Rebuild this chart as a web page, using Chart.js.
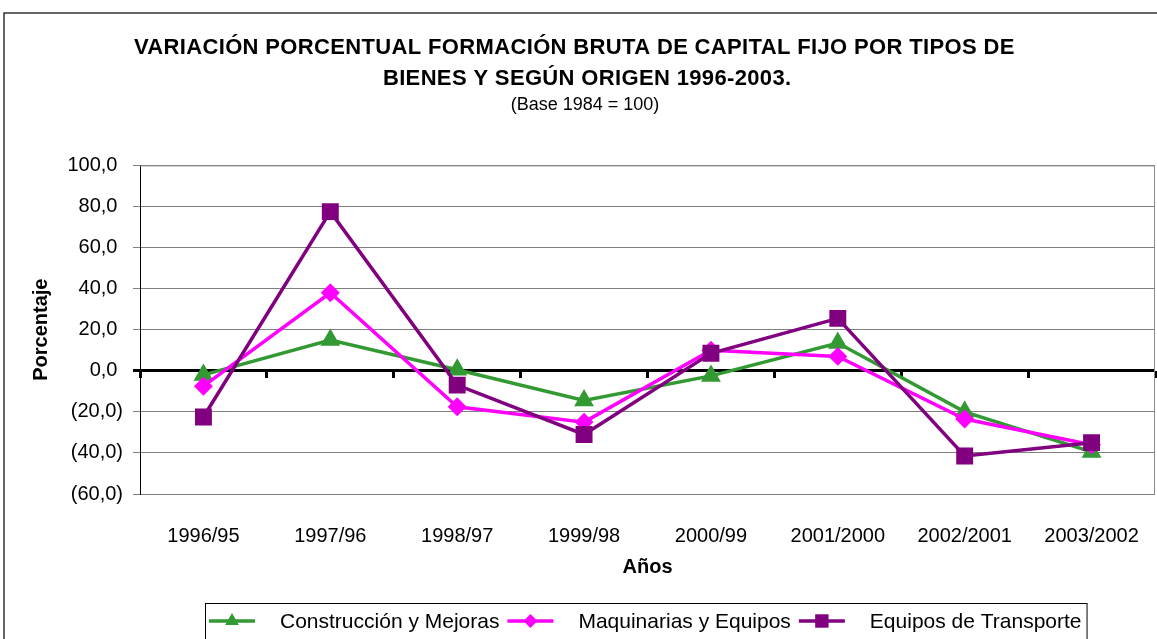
<!DOCTYPE html>
<html lang="es">
<head>
<meta charset="UTF-8">
<title>Variación porcentual FBKF</title>
<script src="https://cdn.jsdelivr.net/npm/chart.js@4.4.0/dist/chart.umd.min.js"></script>
<style>
  body { margin: 0; background: #fff; }
  .marco { position: relative; width: 1157px; height: 639px; overflow: hidden; }
</style>
</head>
<body>
<div class="marco">
  <canvas id="grafico" width="1157" height="639"></canvas>
</div>
<script>
// datos
const categorias = ['1996/95', '1997/96', '1998/97', '1999/98', '2000/99', '2001/2000', '2002/2001', '2003/2002'];
const construccion = [-2.0, 15.0, 0.5, -14.5, -2.5, 13.5, -20.0, -39.5];
const maquinarias = [-7.5, 38.0, -17.5, -25.0, 10.0, 7.0, -23.5, -36.0];
const transporte = [-22.5, 77.5, -7.0, -31.0, 8.5, 25.5, -41.5, -35.0];
const ticksY = [-60, -40, -20, 0, 20, 40, 60, 80, 100];

const fuente = "Arial, 'Liberation Sans', sans-serif";

// formato tipo Excel: negativos entre paréntesis
function formatoNum(v) {
  var s = Math.abs(v).toFixed(1).replace('.', ',');
  return v < 0 ? '(' + s + ')' : s + '\u2008';
}

// sin relleno lateral en los ejes de categorías
function sinRelleno(scale) {
  scale.paddingLeft = 0;
  scale.paddingRight = 0;
}

// marco exterior y borde del área de trazado
const marcoPlugin = {
  id: 'marco',
  beforeDraw(chart) {
    const ctx = chart.ctx;
    ctx.save();
    ctx.strokeStyle = '#333';
    ctx.lineWidth = 1.5;
    ctx.beginPath();
    ctx.moveTo(4, 639);
    ctx.lineTo(4, 13);
    ctx.lineTo(1157, 13);
    ctx.stroke();
    ctx.restore();
  },
  beforeDatasetsDraw(chart) {
    const a = chart.chartArea;
    const ctx = chart.ctx;
    ctx.save();
    ctx.strokeStyle = '#8c8c8c';
    ctx.lineWidth = 1;
    ctx.beginPath();
    ctx.moveTo(a.left, a.top + 0.5);
    ctx.lineTo(a.right - 0.5, a.top + 0.5);
    ctx.lineTo(a.right - 0.5, a.bottom);
    ctx.stroke();
    ctx.restore();
  }
};

// leyenda con línea + marcador, dentro de un recuadro
const leyendaPlugin = {
  id: 'leyendaCaja',
  afterDraw(chart) {
    const ctx = chart.ctx;
    const a = chart.chartArea;
    const sets = chart.data.datasets;
    ctx.save();
    ctx.font = '21px ' + fuente;
    var muestra = 46, hueco = 25, sep = 8;
    var total = 0;
    sets.forEach(function (ds, i) {
      total += muestra + hueco + ctx.measureText(ds.label).width + (i < sets.length - 1 ? sep : 0);
    });
    var padL = 4, padR = 5;
    var ancho = total + padL + padR;
    var x0 = Math.round((a.left + a.right) / 2 - 2 - ancho / 2);
    var y0 = chart.height - 36;
    ctx.strokeStyle = '#000';
    ctx.lineWidth = 1;
    ctx.strokeRect(x0 + 0.5, y0 + 0.5, ancho, 60);
    var x = x0 + padL;
    var yc = y0 + 18;
    sets.forEach(function (ds) {
      ctx.strokeStyle = ds.borderColor;
      ctx.lineWidth = ds.borderWidth;
      ctx.beginPath();
      ctx.moveTo(x, yc);
      ctx.lineTo(x + muestra, yc);
      ctx.stroke();
      ctx.fillStyle = ds.pointBackgroundColor;
      Chart.helpers.drawPoint(ctx, {
        pointStyle: ds.pointStyle, radius: ds.pointRadius, rotation: 0, borderWidth: 0
      }, x + muestra / 2, yc);
      ctx.fillStyle = '#000';
      ctx.textBaseline = 'middle';
      ctx.textAlign = 'left';
      ctx.fillText(ds.label, x + muestra + hueco, yc + 1);
      x += muestra + hueco + ctx.measureText(ds.label).width + sep;
    });
    ctx.restore();
  }
};

const ctx = document.getElementById('grafico').getContext('2d');
const grafico = new Chart(ctx, {
  type: 'line',
  data: {
    labels: categorias,
    datasets: [{
      label: 'Construcción y Mejoras',
      data: construccion,
      borderColor: '#339933',
      backgroundColor: '#339933',
      pointBackgroundColor: '#339933',
      pointBorderColor: '#339933',
      borderWidth: 3.5,
      pointStyle: 'triangle',
      pointRadius: 8,
      order: 2
    }, {
      label: 'Maquinarias y Equipos',
      data: maquinarias,
      borderColor: '#ff00ff',
      backgroundColor: '#ff00ff',
      pointBackgroundColor: '#ff00ff',
      pointBorderColor: '#ff00ff',
      borderWidth: 3.5,
      pointStyle: 'rectRot',
      pointRadius: 7,
      order: 1
    }, {
      label: 'Equipos de Transporte',
      data: transporte,
      borderColor: '#800080',
      backgroundColor: '#800080',
      pointBackgroundColor: '#800080',
      pointBorderColor: '#800080',
      borderWidth: 3.5,
      pointStyle: 'rect',
      pointRadius: 9.5,
      order: 0
    }]
  },
  options: {
    responsive: false,
    animation: false,
    layout: { autoPadding: false, padding: { left: 0, right: 2, top: 0, bottom: 0 } },
    plugins: {
      legend: { display: false },
      tooltip: { enabled: false },
      title: {
        display: true,
        text: ['VARIACIÓN PORCENTUAL FORMACIÓN BRUTA DE CAPITAL FIJO POR TIPOS DE ', '   BIENES Y SEGÚN ORIGEN 1996-2003.'],
        color: '#000',
        font: { family: fuente, size: 22, weight: 'bold', lineHeight: 1.4 },
        padding: { top: 33, bottom: 1 }
      },
      subtitle: {
        display: true,
        text: '   (Base 1984 = 100)',
        color: '#000',
        font: { family: fuente, size: 18, lineHeight: 1.1 },
        padding: { top: 0, bottom: 50 }
      }
    },
    scales: {
      x: {
        type: 'category',
        position: 'bottom',
        offset: true,
        afterFit: function (scale) { scale.height = 145; sinRelleno(scale); },
        grid: { display: false },
        border: { display: false },
        ticks: {
          color: '#000',
          font: { family: fuente, size: 20 },
          padding: 22,
          maxRotation: 0,
          autoSkip: false
        },
        title: {
          display: true,
          text: 'Años',
          color: '#000',
          font: { family: fuente, size: 20, weight: 'bold', lineHeight: 1.2 },
          padding: { top: 0, bottom: 60 }
        }
      },
      // marcas del eje de categorías sobre la línea del cero
      x2: {
        type: 'category',
        position: { y: 0 },
        offset: true,
        afterFit: sinRelleno,
        grid: {
          offset: true,
          drawOnChartArea: false,
          drawTicks: true,
          tickLength: 7,
          color: '#000',
          lineWidth: 3
        },
        border: { display: false },
        ticks: { display: false }
      },
      y: {
        type: 'linear',
        min: -60,
        max: 100,
        afterFit: function (scale) { scale.width = 140; },
        afterBuildTicks: function (scale) {
          scale.ticks = ticksY.map(function (v) { return { value: v }; });
        },
        grid: {
          color: function (c) { return c.tick && c.tick.value === 0 ? '#000' : '#808080'; },
          lineWidth: function (c) { return c.tick && c.tick.value === 0 ? 3 : 1; },
          tickLength: 7
        },
        border: { display: true, color: '#000', width: 1 },
        ticks: {
          color: '#000',
          font: { family: fuente, size: 20 },
          padding: 10,
          callback: function (v) { return formatoNum(v); }
        },
        title: {
          display: true,
          text: 'Porcentaje',
          color: '#000',
          font: { family: fuente, size: 20, weight: 'bold', lineHeight: 1.2 },
          padding: { top: 29, bottom: 0 }
        }
      }
    }
  },
  plugins: [marcoPlugin, leyendaPlugin]
});

// título con un poco de espaciado entre letras, como en el original
var bloque = grafico.titleBlock;
if (bloque) {
  var dibujoTitulo = bloque.draw.bind(bloque);
  bloque.draw = function (area) {
    bloque.ctx.letterSpacing = '0.35px';
    dibujoTitulo(area);
    bloque.ctx.letterSpacing = '0px';
  };
  grafico.render();
}
</script>
</body>
</html>
